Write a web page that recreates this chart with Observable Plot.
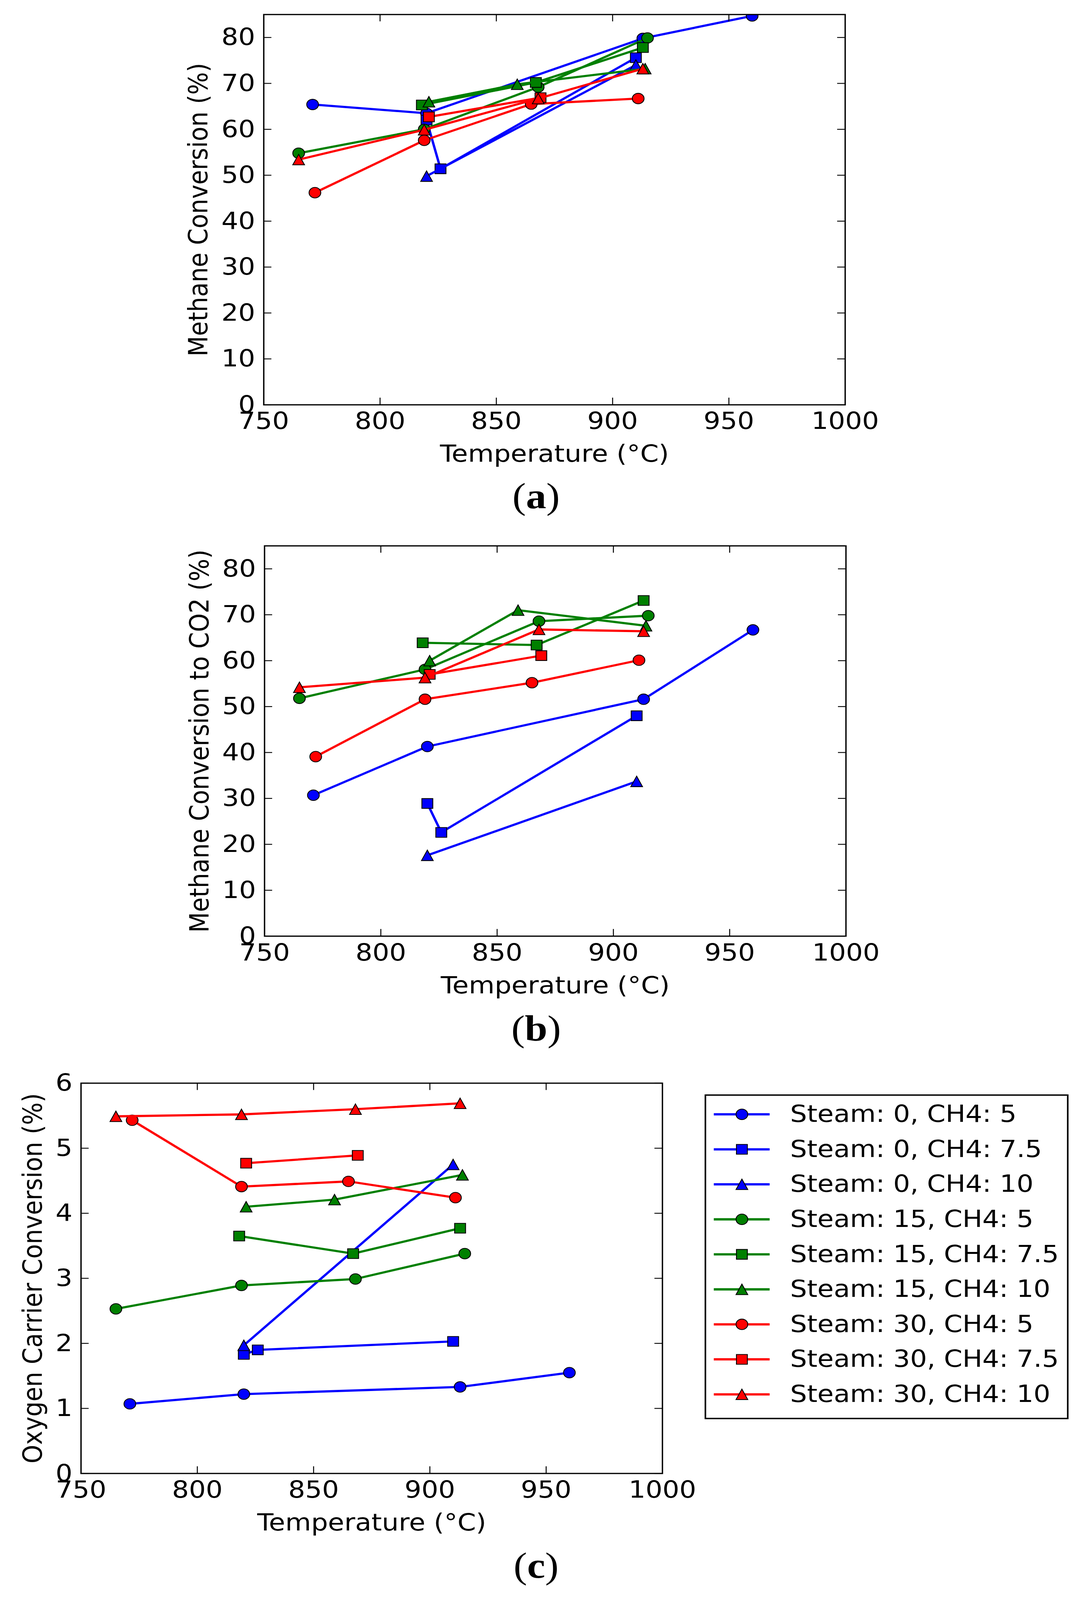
<!DOCTYPE html>
<html>
<head>
<meta charset="utf-8">
<script src="https://cdn.jsdelivr.net/npm/d3@7"></script>
<script src="https://cdn.jsdelivr.net/npm/@observablehq/plot@0.6"></script>
<style>
  html, body { margin: 0; padding: 0; background: #ffffff; overflow: hidden; }
  #page { position: relative; width: 2771px; height: 4571px; background: #ffffff; overflow: hidden; transform-origin: 0 0; }
  #page > svg { position: absolute; overflow: visible; }
  .cap { position: absolute; width: 400px; text-align: center; font-family: "Liberation Serif", "Times New Roman", serif; font-size: 104px; line-height: 104px; color: #000; font-weight: normal; }
  .cap b { font-weight: bold; }
</style>
</head>
<body>
<div id="page"></div>
<script>
// ---------- tick labels ----------
const xTicks = [750, 800, 850, 900, 950, 1000];
const conversionTicks = [0, 10, 20, 30, 40, 50, 60, 70, 80];
const carrierTicks = [0, 1, 2, 3, 4, 5, 6];

// ---------- series ----------
const seriesNames = [
  "Steam: 0, CH4: 5", "Steam: 0, CH4: 7.5", "Steam: 0, CH4: 10",
  "Steam: 15, CH4: 5", "Steam: 15, CH4: 7.5", "Steam: 15, CH4: 10",
  "Steam: 30, CH4: 5", "Steam: 30, CH4: 7.5", "Steam: 30, CH4: 10"
];
const seriesColors = ["#0000ff", "#0000ff", "#0000ff", "#008000", "#008000", "#008000", "#ff0000", "#ff0000", "#ff0000"];
const seriesMarkers = ["circle", "square", "triangle", "circle", "square", "triangle", "circle", "square", "triangle"];

// temperatures (°C) of each series
const tempSteam0Ch4_5 = [771, 820, 913, 960];
const tempSteam0Ch4_75 = [820, 826, 910];
const tempSteam0Ch4_10 = [820, 910];
const tempSteam15Ch4_5 = [765, 819, 868, 915];
const tempSteam15Ch4_75 = [818, 867, 913];
const tempSteam15Ch4_10 = [821, 859, 914];
const tempSteam30Ch4_5 = [772, 819, 865, 911];
const tempSteam30Ch4_75 = [821, 869];
const tempSteam30Ch4_10 = [765, 819, 868, 913];
const seriesTemps = [tempSteam0Ch4_5, tempSteam0Ch4_75, tempSteam0Ch4_10, tempSteam15Ch4_5, tempSteam15Ch4_75,
                     tempSteam15Ch4_10, tempSteam30Ch4_5, tempSteam30Ch4_75, tempSteam30Ch4_10];

// (a) Methane Conversion (%)
const methaneConversion = [
  [65.4, 63.5, 79.8, 84.7],
  [62.0, 51.4, 75.6],
  [49.8, 74.0],
  [54.8, 60.0, 69.2, 79.9],
  [65.3, 70.2, 77.8],
  [66.0, 69.8, 73.2],
  [46.2, 57.6, 65.5, 66.7],
  [62.7, 66.9],
  [53.4, 59.9, 66.7, 73.2]
];
// (b) Methane Conversion to CO2 (%)
const co2Conversion = [
  [30.7, 41.3, 51.6, 66.7],
  [28.9, 22.6, 48.0],
  [17.6, 33.7],
  [51.8, 58.1, 68.6, 69.8],
  [63.9, 63.4, 73.1],
  [60.0, 71.0, 67.6],
  [39.1, 51.6, 55.2, 60.1],
  [57.0, 61.1],
  [54.2, 56.3, 66.8, 66.4]
];
// (c) Oxygen Carrier Conversion (%)
const carrierConversion = [
  [1.07, 1.22, 1.33, 1.55],
  [1.83, 1.90, 2.03],
  [1.97, 4.75],
  [2.53, 2.89, 2.99, 3.38],
  [3.65, 3.38, 3.77],
  [4.10, 4.21, 4.59],
  [5.43, 4.41, 4.49, 4.24],
  [4.77, 4.89],
  [5.49, 5.52, 5.60, 5.69]
];

// ---------- styling ----------
const FONT = "'DejaVu Sans', 'Bitstream Vera Sans', sans-serif";
const FS = 68;
const FRAME_W = 1489, FRAME_H = 1115;
const TICK = 20;
const LINE_W = 6.2;
const MARK_R = 15;

const markerShapes = {
  circle: "circle",
  square: {draw(ctx, size) { const r = Math.sqrt(size / Math.PI) * 0.93; ctx.rect(-r, -r, 2 * r, 2 * r); }},
  triangle: {draw(ctx, size) { const r = Math.sqrt(size / Math.PI); ctx.moveTo(0, -r); ctx.lineTo(r, r); ctx.lineTo(-r, r); ctx.closePath(); }}
};

const page = document.getElementById("page");
// the window may be shorter than the 4571 px page: fit the whole figure into what is visible
const PAGE_H = 4571;
const fitY = Math.min(1, (window.innerHeight || PAGE_H) / PAGE_H);
if (fitY < 1) page.style.transform = "scale(1, " + fitY + ")";

function panel({values, yDomain, yTicks, yLabel, frameLeft, frameTop, yLabelDx}) {
  const marginTop = 41, marginBottom = 200, marginRight = 110;
  const marks = [];
  seriesNames.forEach((name, i) => {
    const rows = seriesTemps[i].map((t, j) => ({T: t, v: values[i][j]}));
    marks.push(Plot.line(rows, {x: "T", y: "v", stroke: seriesColors[i], strokeWidth: LINE_W, clip: true}));
    marks.push(Plot.dot(rows, {x: "T", y: "v", symbol: markerShapes[seriesMarkers[i]], r: MARK_R,
      fill: seriesColors[i], stroke: "black", strokeWidth: 2.3, clip: true}));
  });
  const svg = Plot.plot({
    width: frameLeft + FRAME_W + marginRight,
    height: marginTop + FRAME_H + marginBottom,
    marginLeft: frameLeft, marginRight, marginTop, marginBottom,
    style: {fontFamily: FONT, fontSize: FS + "px", color: "black", background: "transparent", overflow: "visible"},
    x: {domain: [750, 1000]},
    y: {domain: yDomain},
    marks: [
      ...marks,
      // inward ticks on all four sides
      Plot.ruleX(xTicks, {x: d => d, insetTop: FRAME_H - TICK, stroke: "black", strokeWidth: 2.5}),
      Plot.ruleX(xTicks, {x: d => d, insetBottom: FRAME_H - TICK, stroke: "black", strokeWidth: 2.5}),
      Plot.ruleY(yTicks, {y: d => d, insetRight: FRAME_W - TICK, stroke: "black", strokeWidth: 2.5}),
      Plot.ruleY(yTicks, {y: d => d, insetLeft: FRAME_W - TICK, stroke: "black", strokeWidth: 2.5}),
      Plot.axisX(xTicks, {anchor: "bottom", tickSize: 0, tickPadding: 21, fontSize: FS, label: null, tickFormat: d3.format("d")}),
      Plot.axisY(yTicks, {anchor: "left", tickSize: 0, tickPadding: 22, fontSize: FS, label: null, tickFormat: d3.format("d")}),
      Plot.text(["Temperature (°C)"], {text: d => d, frameAnchor: "bottom", dy: 163, lineAnchor: "bottom", textAnchor: "middle", fontSize: FS}),
      Plot.text([yLabel], {text: d => d, frameAnchor: "left", rotate: -90, dx: yLabelDx, lineAnchor: "bottom", textAnchor: "middle", fontSize: FS}),
      Plot.frame({stroke: "black", strokeWidth: 3.5})
    ]
  });
  svg.style.left = "0px";
  svg.style.top = (frameTop - marginTop) + "px";
  page.appendChild(svg);
}

panel({values: methaneConversion, yDomain: [0, 85], yTicks: conversionTicks,
       yLabel: "Methane Conversion (%)", frameLeft: 675, frameTop: 41, yLabelDx: -145});
panel({values: co2Conversion, yDomain: [0, 85], yTicks: conversionTicks,
       yLabel: "Methane Conversion to CO2 (%)", frameLeft: 677, frameTop: 1559, yLabelDx: -144});
panel({values: carrierConversion, yDomain: [0, 6], yTicks: carrierTicks,
       yLabel: "Oxygen Carrier Conversion (%)", frameLeft: 207, frameTop: 3094, yLabelDx: -101});

// ---------- legend ----------
const legendRows = seriesNames.map((name, i) => ({name, color: seriesColors[i], marker: seriesMarkers[i]}));
const legendMarks = [
  Plot.ruleY(legendRows, {y: "name", x1: 0, x2: 1, stroke: "color", strokeWidth: 6.5})
];
["circle", "square", "triangle"].forEach(m => {
  legendMarks.push(Plot.dot(legendRows.filter(d => d.marker === m), {
    x: 0.5, y: "name", symbol: markerShapes[m], r: MARK_R, fill: "color", stroke: "black", strokeWidth: 2.3
  }));
});
legendMarks.push(Plot.text(legendRows, {x: 1, y: "name", text: "name", dx: 52, textAnchor: "start", fontSize: FS}));
legendMarks.push(Plot.frame({stroke: "black", strokeWidth: 4, inset: 2}));
const legend = Plot.plot({
  width: 932, height: 928, margin: 0,
  style: {fontFamily: FONT, fontSize: FS + "px", color: "black", background: "transparent", overflow: "visible"},
  x: {domain: [0, 1], range: [24, 167], axis: null},
  y: {type: "point", domain: seriesNames, range: [57, 857], padding: 0, axis: null},
  color: {type: "identity"},
  marks: legendMarks
});
legend.style.left = "1804px";
legend.style.top = "3126px";
page.appendChild(legend);

// ---------- panel captions ----------
[["a", 1452], ["b", 2973], ["c", 4507]].forEach(([letter, baseline]) => {
  const div = document.createElement("div");
  div.className = "cap";
  div.innerHTML = "(<b>" + letter + "</b>)";
  div.style.left = (1373 - 200) + "px";
  div.style.top = (baseline - 87) + "px";
  page.appendChild(div);
});
</script>
</body>
</html>
